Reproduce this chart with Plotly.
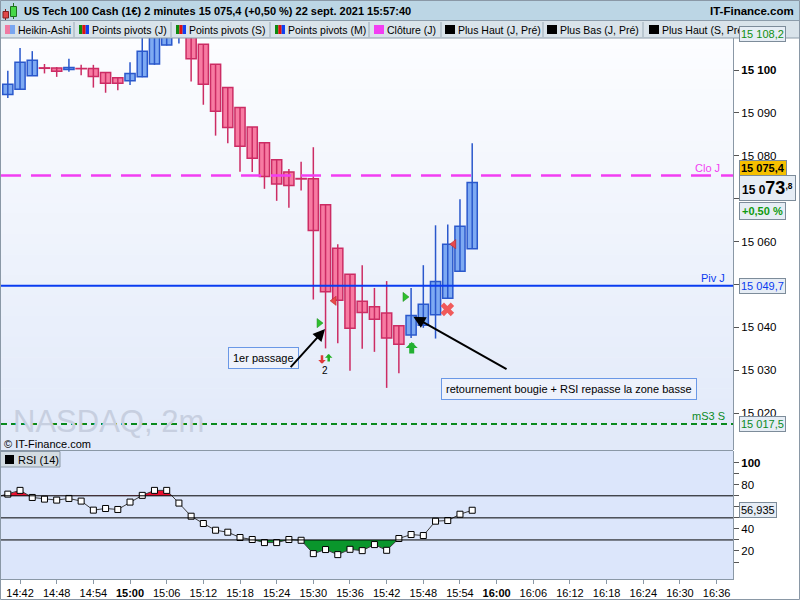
import plotly.graph_objects as go
from datetime import datetime

DAY = "2021-09-22"

# ---------------- data ----------------
CANDLE_TIMES = ["14:40", "14:42", "14:44", "14:46", "14:48", "14:50", "14:52", "14:54", "14:56", "14:58",
                "15:00", "15:02", "15:04", "15:06", "15:08", "15:10", "15:12", "15:14", "15:16", "15:18",
                "15:20", "15:22", "15:24", "15:26", "15:28", "15:30", "15:32", "15:34", "15:36", "15:38",
                "15:40", "15:42", "15:44", "15:46", "15:48", "15:50", "15:52", "15:54", "15:56"]
HA_OPEN = [15094.3, 15095.5, 15098.65, 15100.5, 15100.45, 15100.1, 15100.35, 15100.35, 15099.4, 15098.2,
           15097.5, 15098.4, 15101.4, 15105.8, 15109.2, 15109.4, 15106.0, 15101.35, 15095.9, 15091.25,
           15086.7, 15083.05, 15079.1, 15076.25, 15074.7, 15074.65, 15068.6, 15058.45, 15052.4, 15046.1,
           15044.8, 15043.35, 15040.4, 15038.25, 15040.5, 15042.95, 15046.8, 15053.1, 15058.35]
HA_HIGH = [15099.8, 15105.1, 15104.4, 15101.4, 15100.7, 15102.6, 15101.2, 15101.2, 15099.4, 15098.2,
           15101.8, 15107.8, 15112.0, 15114.0, 15111.0, 15109.4, 15106.0, 15101.35, 15095.9, 15091.25,
           15086.7, 15083.05, 15079.1, 15076.9, 15078.6, 15082.0, 15068.6, 15059.4, 15052.4, 15054.5,
           15049.2, 15050.8, 15040.4, 15049.2, 15054.5, 15063.8, 15064.0, 15069.9, 15082.9]
HA_LOW = [15093.5, 15095.4, 15098.6, 15099.2, 15098.4, 15099.6, 15098.8, 15095.9, 15094.7, 15095.3,
          15096.5, 15098.3, 15101.2, 15105.7, 15106.2, 15097.3, 15091.9, 15084.7, 15082.9, 15076.3,
          15076.2, 15072.3, 15069.5, 15067.9, 15071.9, 15046.5, 15035.1, 15036.3, 15029.9, 15035.0,
          15034.3, 15025.9, 15029.3, 15037.5, 15039.9, 15037.4, 15046.7, 15053.0, 15058.3]
HA_CLOSE = [15096.7, 15101.8, 15102.3, 15100.4, 15099.7, 15100.6, 15100.3, 15098.5, 15096.9, 15096.9,
            15099.2, 15104.4, 15110.2, 15112.6, 15109.6, 15102.6, 15096.7, 15090.4, 15086.6, 15082.2,
            15079.4, 15075.2, 15073.4, 15073.1, 15074.6, 15062.6, 15048.3, 15046.3, 15039.8, 15043.5,
            15041.9, 15037.5, 15036.1, 15042.8, 15045.4, 15050.7, 15059.4, 15063.6, 15073.8]

RSI_TIMES = ["14:38"] + CANDLE_TIMES
RSI_VALUES = [68.6, 71.5, 74.9, 68.5, 67.0, 66.1, 67.6, 65.2, 57.0, 58.5, 57.6,
              64.3, 70.4, 74.9, 74.9, 63.4, 51.5, 44.9, 38.8, 37.0, 32.2,
              30.4, 27.6, 27.6, 30.4, 29.7, 17.6, 21.3, 16.7, 21.5, 20.3,
              25.8, 20.6, 31.3, 34.9, 34.0, 47.0, 47.6, 53.3, 56.9]
RSI_LAST = 56.935
RSI_LEVELS = [70, 50, 30]

X_TICKS = ["14:42", "14:48", "14:54", "15:00", "15:06", "15:12", "15:18", "15:24", "15:30", "15:36",
           "15:42", "15:48", "15:54", "16:00", "16:06", "16:12", "16:18", "16:24", "16:30", "16:36"]
X_BOLD = ["15:00", "16:00"]
PRICE_TICKS = [15020, 15030, 15040, 15050, 15060, 15070, 15080, 15090, 15100]
PRICE_TICK_LABELS = ["15 020", "15 030", "15 040", "", "15 060", "", "15 080", "15 090", "<b>15 100</b>"]
RSI_TICKS = [10, 20, 30, 40, 50, 60, 70, 80, 90, 100]
RSI_TICK_LABELS = ["", "20", "", "40", "", "", "", "80", "", "<b>100</b>"]

CLO_J = 15075.4
PIV_J = 15049.7
MS3_S = 15017.5
LAST_PRICE = 15073.8

BUY_TRI_T = ["15:30:56", "15:45:00"]
BUY_TRI_P = [15041.0, 15047.1]
SELL_TRI_T = ["15:33:24", "15:52:59"]
SELL_TRI_P = [15046.2, 15059.4]
EXIT_T = ["15:51:56"]
EXIT_P = [15044.2]

LEGEND_ITEMS = ["Heikin-Ashi", "Points pivots (J)", "Points pivots (S)", "Points pivots (M)",
                "Clôture (J)", "Plus Haut (J, Pré)", "Plus Bas (J, Pré)", "Plus Haut (S, Pré)"]

# ---------------- helpers ----------------
PL, PR, PT, PB = 1, 733, 38, 579
def px(x):
    return (x - PL) / (PR - PL)
def py(y):
    return (PB - y) / (PB - PT)

def T(s):
    fmt = "%Y-%m-%d %H:%M:%S" if s.count(":") == 2 else "%Y-%m-%d %H:%M"
    return datetime.strptime(DAY + " " + s, fmt)

FONT = "Liberation Sans, Arial, sans-serif"
ct = [T(s) for s in CANDLE_TIMES]
rt = [T(s) for s in RSI_TIMES]

def band(ts, vals, thr, above):
    pts = []
    for i in range(len(vals)):
        if i > 0:
            v0, v1 = vals[i - 1], vals[i]
            if (v0 - thr) * (v1 - thr) < 0:
                f = (thr - v0) / (v1 - v0)
                pts.append((ts[i - 1] + (ts[i] - ts[i - 1]) * f, thr))
        pts.append((ts[i], vals[i]))
    xs = [p[0] for p in pts]
    ys = [max(p[1], thr) if above else min(p[1], thr) for p in pts]
    return xs, ys

UP_LINE, UP_FILL = "#2a58cc", "#7eaaf2"
DN_LINE, DN_FILL = "#cc2c64", "#f77ba2"

fig = go.Figure()

# wicks
for up in (True, False):
    wx, wy = [], []
    for t, o, h, l, c in zip(ct, HA_OPEN, HA_HIGH, HA_LOW, HA_CLOSE):
        if (c > o) == up:
            wx += [t, t, None]
            wy += [l, h, None]
    fig.add_trace(go.Scatter(x=wx, y=wy, mode="lines", yaxis="y", hoverinfo="skip",
                             line=dict(color=UP_LINE if up else DN_LINE, width=1.5)))
# bodies
fig.add_trace(go.Bar(
    x=ct, base=[min(o, c) for o, c in zip(HA_OPEN, HA_CLOSE)],
    y=[abs(c - o) for o, c in zip(HA_OPEN, HA_CLOSE)],
    width=[2 * 60000 * 0.83] * len(ct), yaxis="y", hoverinfo="skip",
    marker=dict(color=[UP_FILL if c > o else DN_FILL for o, c in zip(HA_OPEN, HA_CLOSE)],
                line=dict(color=[UP_LINE if c > o else DN_LINE for o, c in zip(HA_OPEN, HA_CLOSE)],
                          width=1.5))))

# signal markers
fig.add_trace(go.Scatter(x=[T(s) for s in BUY_TRI_T], y=BUY_TRI_P, mode="markers", yaxis="y",
                         marker=dict(symbol="triangle-right", size=8, color="#2ec02e",
                                     line=dict(color="#1a8a1a", width=0.5)), hoverinfo="skip"))
fig.add_trace(go.Scatter(x=[T(s) for s in SELL_TRI_T], y=SELL_TRI_P, mode="markers", yaxis="y",
                         marker=dict(symbol="triangle-left", size=8, color="#e84a4a",
                                     line=dict(color="#b02222", width=0.5)), hoverinfo="skip"))
fig.add_trace(go.Scatter(x=[T(s) for s in EXIT_T], y=EXIT_P, mode="markers", yaxis="y",
                         marker=dict(symbol="x", size=12, color="#f05a5a", line=dict(width=0)),
                         hoverinfo="skip"))

# RSI fills
xs, ys = band(rt, RSI_VALUES, 70, True)
fig.add_trace(go.Scatter(x=xs, y=[70] * len(xs), mode="lines", line=dict(width=0), yaxis="y2", hoverinfo="skip"))
fig.add_trace(go.Scatter(x=xs, y=ys, mode="lines", line=dict(width=0), fill="tonexty",
                         fillcolor="#ea1030", yaxis="y2", hoverinfo="skip"))
xs, ys = band(rt, RSI_VALUES, 30, False)
fig.add_trace(go.Scatter(x=xs, y=[30] * len(xs), mode="lines", line=dict(width=0), yaxis="y2", hoverinfo="skip"))
fig.add_trace(go.Scatter(x=xs, y=ys, mode="lines", line=dict(width=0), fill="tonexty",
                         fillcolor="#0a962c", yaxis="y2", hoverinfo="skip"))
fig.add_trace(go.Scatter(x=rt, y=RSI_VALUES, mode="lines+markers", yaxis="y2", hoverinfo="skip",
                         line=dict(color="#3c3c3c", width=1),
                         marker=dict(symbol="square", size=6, color="white",
                                     line=dict(color="black", width=1))))

shapes = []
# main gradient background
N = 40
c0, c1 = (252, 253, 255), (225, 233, 249)
y_top, y_bot = py(PT), py(450)
for i in range(N):
    col = tuple(round(c0[k] + (c1[k] - c0[k]) * (i + 0.5) / N) for k in range(3))
    shapes.append(dict(type="rect", xref="paper", yref="paper", x0=0, x1=1,
                       y0=y_top - (y_top - y_bot) * (i + 1) / N - 0.001,
                       y1=y_top - (y_top - y_bot) * i / N,
                       fillcolor="rgb(%d,%d,%d)" % col, line=dict(width=0), layer="below"))
shapes.append(dict(type="rect", xref="paper", yref="paper", x0=0, x1=1, y0=0, y1=py(451),
                   fillcolor="#dce6fb", line=dict(width=0), layer="below"))
# separators
shapes.append(dict(type="line", xref="paper", yref="paper", x0=px(0), x1=1, y0=py(450.5), y1=py(450.5),
                   line=dict(color="#8a98a6", width=1)))
# pivot lines
shapes.append(dict(type="line", xref="paper", yref="y", x0=0, x1=1, y0=CLO_J, y1=CLO_J,
                   line=dict(color="#f23ef2", width=2.5, dash="20px,10px")))
shapes.append(dict(type="line", xref="paper", yref="y", x0=0, x1=1, y0=PIV_J, y1=PIV_J,
                   line=dict(color="#0a3cf0", width=2)))
shapes.append(dict(type="line", xref="paper", yref="y", x0=0, x1=1, y0=MS3_S, y1=MS3_S,
                   line=dict(color="#0a8a1e", width=2, dash="6px,4px")))
# RSI levels
for lv in RSI_LEVELS:
    shapes.append(dict(type="line", xref="paper", yref="y2", x0=0, x1=1, y0=lv, y1=lv,
                       line=dict(color="black", width=1)))
# header
shapes.append(dict(type="rect", xref="paper", yref="paper", x0=px(0), x1=px(800), y0=py(20.5), y1=py(0),
                   fillcolor="#bcd6e5", line=dict(width=0)))
shapes.append(dict(type="rect", xref="paper", yref="paper", x0=px(0), x1=px(800), y0=py(38), y1=py(20.5),
                   fillcolor="#d9e3ea", line=dict(width=0)))
shapes.append(dict(type="line", xref="paper", yref="paper", x0=px(0), x1=px(800), y0=py(20.5), y1=py(20.5),
                   line=dict(color="#8c9caa", width=1)))
shapes.append(dict(type="line", xref="paper", yref="paper", x0=px(0), x1=px(800), y0=py(38), y1=py(38),
                   line=dict(color="#8c9caa", width=1)))
SEP_X = [74, 171, 270, 369, 441, 543, 643]
for sx in SEP_X:
    shapes.append(dict(type="line", xref="paper", yref="paper", x0=px(sx), x1=px(sx), y0=py(37), y1=py(22),
                       line=dict(color="#9aaab6", width=1)))
ITEM_X = [5, 79, 176, 275, 374, 445, 547, 649]
SW_COLORS = [["#f07aa2", "#7aa6f0"], ["#0e8a0e", "#e01010", "#1040f0"], ["#0e8a0e", "#e01010", "#1040f0"],
             ["#0e8a0e", "#e01010", "#1040f0"], ["#f23ef2"], ["black"], ["black"], ["black"]]
for ix, cols in zip(ITEM_X, SW_COLORS):
    w = 10 / len(cols)
    for k, c in enumerate(cols):
        shapes.append(dict(type="rect", xref="paper", yref="paper", x0=px(ix + k * w), x1=px(ix + (k + 1) * w),
                           y0=py(34), y1=py(25), fillcolor=c, line=dict(width=0)))
# title icon
shapes.append(dict(type="line", xref="paper", yref="paper", x0=px(5.5), x1=px(5.5), y0=py(20), y1=py(9),
                   line=dict(color="#802020", width=1)))
shapes.append(dict(type="rect", xref="paper", yref="paper", x0=px(3), x1=px(8.5), y0=py(18), y1=py(11.5),
                   fillcolor="#e04848", line=dict(color="#802020", width=1)))
shapes.append(dict(type="line", xref="paper", yref="paper", x0=px(13.5), x1=px(13.5), y0=py(19), y1=py(3),
                   line=dict(color="#207020", width=1)))
shapes.append(dict(type="rect", xref="paper", yref="paper", x0=px(10.5), x1=px(16.5), y0=py(16.5), y1=py(6.5),
                   fillcolor="#48d848", line=dict(color="#207020", width=1)))
# RSI legend box
shapes.append(dict(type="rect", xref="paper", yref="paper", x0=px(0.5), x1=px(60), y0=py(467), y1=py(451.5),
                   fillcolor="#d3dce2", line=dict(color="#8a98a6", width=1)))
shapes.append(dict(type="rect", xref="paper", yref="paper", x0=px(5), x1=px(14), y0=py(464), y1=py(455),
                   fillcolor="black", line=dict(width=0)))
# outer frame
shapes.append(dict(type="rect", xref="paper", yref="paper", x0=px(0.5), x1=px(799.5), y0=py(599.5), y1=py(0.5),
                   fillcolor="rgba(0,0,0,0)", line=dict(color="#8a98a6", width=1)))

ann = []
def A(**kw):
    base = dict(showarrow=False, font=dict(family=FONT, size=11, color="black"))
    base.update(kw)
    ann.append(base)

# header texts
A(text="<b>US Tech 100 Cash (1€) 2 minutes 15 075,4 (+0,50 %) 22 sept. 2021 15:57:40</b>",
  xref="paper", yref="paper", x=px(22), y=py(11.5), xanchor="left", yanchor="middle",
  font=dict(family=FONT, size=11, color="black"))
A(text="<b>IT-Finance.com</b>", xref="paper", yref="paper", x=px(796), y=py(11.5), xanchor="right",
  yanchor="middle", font=dict(family=FONT, size=11.5, color="black"))
for ix, name in zip(ITEM_X, LEGEND_ITEMS):
    A(text=name, xref="paper", yref="paper", x=px(ix + 11), y=py(30), xanchor="left", yanchor="middle",
      font=dict(family=FONT, size=10.5, color="black"))

# watermark & copyright
A(text="NASDAQ, 2m", xref="paper", yref="paper", x=px(11), y=py(421), xanchor="left", yanchor="middle",
  font=dict(family=FONT, size=31, color="#c7cfe0"))
A(text="© IT-Finance.com", xref="paper", yref="paper", x=px(2), y=py(444), xanchor="left", yanchor="middle",
  font=dict(family=FONT, size=11, color="black"))
A(text="RSI (14)", xref="paper", yref="paper", x=px(16), y=py(459.5), xanchor="left", yanchor="middle",
  font=dict(family=FONT, size=11, color="black"))

# pivot line labels
A(text="Clo J", xref="paper", yref="y", x=px(722), y=CLO_J, xanchor="right", yanchor="middle", yshift=8,
  font=dict(family=FONT, size=11, color="#f23ef2"))
A(text="Piv J", xref="paper", yref="y", x=px(727), y=PIV_J, xanchor="right", yanchor="middle", yshift=8,
  font=dict(family=FONT, size=11, color="#0a3cf0"))
A(text="mS3 S", xref="paper", yref="y", x=px(727), y=MS3_S, xanchor="right", yanchor="middle", yshift=8,
  font=dict(family=FONT, size=11, color="#0a8a1e"))

# axis value boxes
BOX = dict(xref="paper", x=px(738.5), xanchor="left", yanchor="middle", bgcolor="#e6edf5",
           bordercolor="#7d8c9a", borderwidth=1, borderpad=1)
A(text="15 108,2", yref="paper", y=py(33.5), font=dict(family=FONT, size=11, color="#109010"), **BOX)
A(text="15 049,7", yref="y", y=PIV_J, font=dict(family=FONT, size=11, color="#0a3cf0"), **BOX)
A(text="15 017,5", yref="y", y=MS3_S, font=dict(family=FONT, size=11, color="#0a8a1e"), **BOX)
BOXY = dict(BOX)
BOXY["bgcolor"] = "#f6c000"
A(text="<b>15 075,4</b>", yref="y", y=CLO_J, yshift=8, font=dict(family=FONT, size=11, color="black"), **BOXY)
BOXL = dict(BOX)
BOXL["borderpad"] = 2
A(text="<b>15 0<span style='font-size:18px'>73</span><sup>,8</sup></b>", yref="y", y=LAST_PRICE, yshift=-6,
  font=dict(family=FONT, size=12, color="black"), **BOXL)
A(text="<b>+0,50 %</b>", yref="y", y=LAST_PRICE, yshift=-29, font=dict(family=FONT, size=11, color="#109a10"),
  **BOXL)
A(text="56,935", yref="y2", y=RSI_LAST, font=dict(family=FONT, size=11, color="black"), **BOX)

# comment boxes
A(text="1er passage", xref="x", yref="y", x=T("15:21:54"), y=15032.9, xanchor="center", yanchor="middle",
  bgcolor="#eef2fc", bordercolor="#6a98e6", borderwidth=1, borderpad=4)
A(text="retournement bougie + RSI repasse la zone basse", xref="x", yref="y", x=T("16:11:48"), y=15025.7,
  xanchor="center", yanchor="middle", bgcolor="#eef2fc", bordercolor="#6a98e6", borderwidth=1, borderpad=4)
A(text="2", xref="x", yref="y", x=T("15:31:55"), y=15029.9, xanchor="center", yanchor="middle",
  font=dict(family=FONT, size=10, color="black"))

# comment arrows (tail -> tip)
for tip_t, tip_p, tail_t, tail_p in [("15:31:55", 15039.6, "15:26:04", 15030.4),
                                     ("15:46:22", 15042.5, "16:01:52", 15030.1)]:
    ann.append(dict(text="", showarrow=True, xref="x", yref="y", x=T(tip_t), y=tip_p,
                    axref="x", ayref="y", ax=T(tail_t), ay=tail_p,
                    arrowhead=2, arrowsize=1.2, arrowwidth=2, arrowcolor="black", standoff=0))
# block arrow signals
for t, p, dy, col, w, s in [("15:31:25", 15031.5, -10, "#e03a3a", 2.5, 0.5),
                            ("15:32:31", 15033.8, 9, "#22b022", 2.5, 0.5),
                            ("15:46:06", 15036.6, 13, "#22b032", 5, 0.4)]:
    ann.append(dict(text="", showarrow=True, xref="x", yref="y", x=T(t), y=p, ax=0, ay=dy,
                    arrowhead=1, arrowsize=s, arrowwidth=w, arrowcolor=col, standoff=0))

fig.update_layout(
    width=800, height=600,
    margin=dict(l=PL, r=800 - PR, t=PT, b=600 - PB, autoexpand=False),
    paper_bgcolor="white", plot_bgcolor="rgba(0,0,0,0)",
    showlegend=False, barmode="overlay",
    font=dict(family=FONT, size=11, color="black"),
    xaxis=dict(type="date", range=[T("14:38:53"), T("16:38:41")], anchor="y2",
               tickvals=[T(s) for s in X_TICKS],
               ticktext=["<b>%s</b>" % s if s in X_BOLD else s for s in X_TICKS],
               ticks="outside", ticklen=4, tickcolor="#8a98a6", showline=True, linecolor="#8a98a6",
               showgrid=False, zeroline=False,
               tickfont=dict(family=FONT, size=11, color="black")),
    yaxis=dict(domain=[py(450), 1], range=[15011.42, 15107.46], side="right", anchor="x",
               tickvals=PRICE_TICKS, ticktext=PRICE_TICK_LABELS,
               ticks="outside", ticklen=5, tickcolor="#555555", showline=True, linecolor="#8a98a6",
               showgrid=False, zeroline=False, tickfont=dict(family=FONT, size=11.5, color="black")),
    yaxis2=dict(domain=[0, py(451)], range=[-5.4, 110.6], side="right", anchor="x",
                tickvals=RSI_TICKS, ticktext=RSI_TICK_LABELS,
                ticks="outside", ticklen=5, tickcolor="#555555", showline=True, linecolor="#8a98a6",
                showgrid=False, zeroline=False, tickfont=dict(family=FONT, size=11.5, color="black")),
    shapes=shapes, annotations=ann,
)

fig.write_html("out.html", config={"displayModeBar": False},
               post_script="document.body.style.margin='0px';")
